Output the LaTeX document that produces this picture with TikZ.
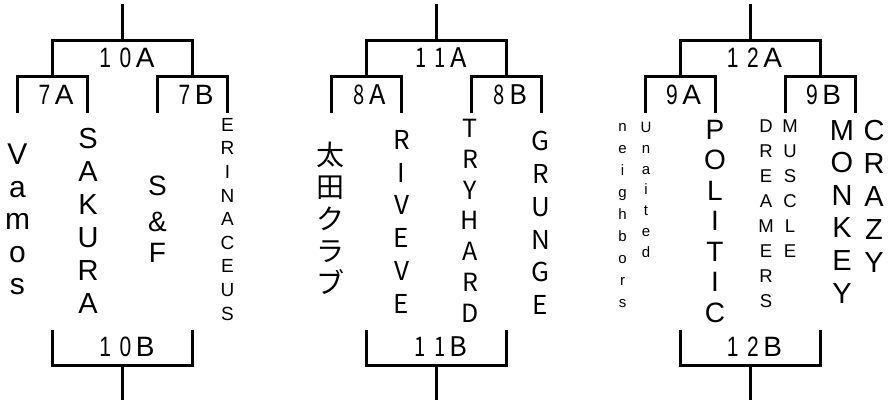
\documentclass[tikz,border=0pt]{standalone}
\usepackage{fontspec}
\usepackage{graphicx}
\setmainfont{Liberation Sans}
\newfontfamily\jpfont{Noto Sans CJK JP}
\newcommand{\pxsize}{1pt}
\newcommand{\colfont}[2]{\fontsize{#1}{#2}\selectfont}
\newcommand{\dg}[1]{\scalebox{0.75}[1]{#1}}
\newcommand{\twodig}[3]{\dg{#1}\kern8.5pt\dg{#2}\kern4.5pt#3}
\newcommand{\onedig}[2]{\dg{#1}\kern4.5pt#2}
\newcommand{\makebracket}[7]{
	\begin{scope}[shift={(#2,0)}]
	\draw[bar] (122.5,4) -- (122.5,40.5);
	\draw[bar] (52.5,76.5) -- (52.5,40.5) -- (192.5,40.5) -- (192.5,76.5);
	\draw[bar] (17.5,113) -- (17.5,76.5) -- (87.5,76.5) -- (87.5,113);
	\draw[bar] (157.5,113) -- (157.5,76.5) -- (227.5,76.5) -- (227.5,113);
	\draw[bar] (52.5,330) -- (52.5,365.5) -- (192.5,365.5) -- (192.5,330);
	\draw[bar] (122.5,365.5) -- (122.5,400);
	\node[lbl,#7] (#1top) at (127,58) {#3};
	\node[lbl,#7] (#1left) at (56,95) {#4};
	\node[lbl,#7] (#1right) at (196,95) {#5};
	\node[lbl,#7] (#1bottom) at (127,347) {#6};
	\end{scope}
}

\begin{document}
\begin{tikzpicture}[x=\pxsize,y=-\pxsize,
	bar/.style={line width=3pt},
	lbl/.style={inner sep=0pt,font={\colfont{28}{28}}},
	jp/.style={font={\jpfont\colfont{27}{27}}},
	col/.style={anchor=north,inner sep=0pt,align=center}]
	\useasboundingbox (0,0) rectangle (893,400);

	\makebracket{ten}{0}{\twodig{1}{0}{A}}{\onedig{7}{A}}{\onedig{7}{B}}{\twodig{1}{0}{B}}{}
	\makebracket{eleven}{314}{\twodig{1}{1}{A}}{\onedig{8}{A}}{\onedig{8}{B}}{\twodig{1}{1}{B}}{jp}
	\makebracket{twelve}{627.5}{\twodig{1}{2}{A}}{\onedig{9}{A}}{\onedig{9}{B}}{\twodig{1}{2}{B}}{}

	% block 10
	\node[col,font={\colfont{30}{32.5}}] (vamos) at (17.5,144) {V\\a\\m\\o\\s};
	\node[col,font={\colfont{29}{33}}] (sakura) at (88,128) {S\\A\\K\\U\\R\\A};
	\node[col,font={\colfont{28}{31}}] (sf) at (157.5,176) {S\\[5pt]\&\\F};
	\node[col,font={\colfont{19}{23.6}}] (erinaceus) at (227.5,118) {E\\R\\I\\N\\A\\C\\E\\U\\S};

	% block 11
	\node[col,font={\jpfont\colfont{28}{32}}] (ota) at (330.5,142) {太\\田\\ク\\ラ\\ブ};
	\node[col,font={\jpfont\colfont{26}{32.8}}] (riveve) at (401.5,130) {R\\I\\V\\E\\V\\E};
	\node[col,font={\jpfont\colfont{25}{30.8}}] (tryhard) at (470,119) {T\\R\\Y\\H\\A\\R\\D};
	\node[col,font={\jpfont\colfont{26}{32.8}}] (grunge) at (540.5,131) {G\\R\\U\\N\\G\\E};

	% block 12
	\node[col,font={\colfont{15}{22}}] (neighbors) at (622.5,123) {n\\e\\i\\g\\h\\b\\o\\r\\s};
	\node[col,font={\colfont{15}{20.8}}] (unaited) at (646,122) {U\\n\\a\\i\\t\\e\\d};
	\node[col,font={\colfont{28}{30.5}}] (politic) at (715,120) {P\\O\\L\\I\\T\\I\\C};
	\node[col,font={\colfont{18.5}{24.9}}] (dreamers) at (766,120) {D\\R\\E\\A\\M\\E\\R\\S};
	\node[col,font={\colfont{18.5}{25}}] (muscle) at (790,120) {M\\U\\S\\C\\L\\E};
	\node[col,font={\colfont{29}{32.6}}] (monkey) at (842,120) {M\\O\\N\\K\\E\\Y};
	\node[col,font={\colfont{29}{33}}] (crazy) at (874,120) {C\\R\\A\\Z\\Y};
\end{tikzpicture}
\end{document}
